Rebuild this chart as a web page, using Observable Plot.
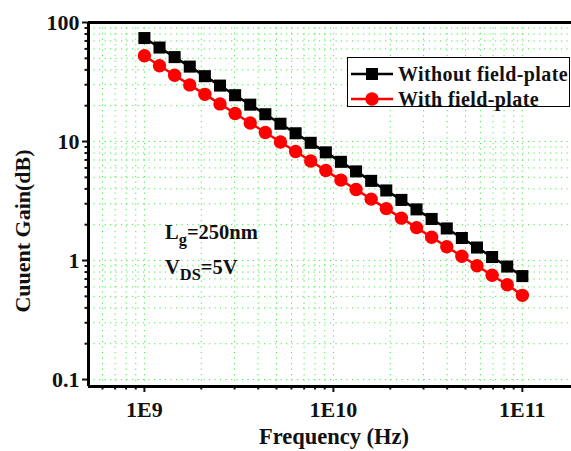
<!DOCTYPE html>
<html>
<head>
<meta charset="utf-8">
<script src="https://cdn.jsdelivr.net/npm/d3@7"></script>
<script src="https://cdn.jsdelivr.net/npm/@observablehq/plot@0.6"></script>
<style>
  html, body { margin: 0; padding: 0; background: #fff; }
  #wrap { position: relative; width: 571px; height: 451px; overflow: hidden; font-family: "Liberation Serif", "Times New Roman", serif; font-weight: bold; color: #111; }
  .ov { position: absolute; white-space: nowrap; line-height: 1; }
  sub { font-size: 0.8em; vertical-align: -0.35em; line-height: 0; }
</style>
</head>
<body>
<div id="wrap"></div>
<script>
// Frequency in GHz
const freqGHz = [1.000, 1.202, 1.445, 1.738, 2.089, 2.512, 3.020, 3.631, 4.365, 5.248,
                 6.310, 7.586, 9.120, 10.96, 13.18, 15.85, 19.05, 22.91, 27.54, 33.11,
                 39.81, 47.86, 57.54, 69.18, 83.18, 100.0];
const withoutFieldPlate = [74, 61.6, 51.2, 42.6, 35.4, 29.5, 24.5, 20.4, 16.95, 14.1,
                           11.73, 9.75, 8.11, 6.75, 5.61, 4.67, 3.88, 3.23, 2.69, 2.235,
                           1.86, 1.546, 1.286, 1.07, 0.89, 0.74];
const withFieldPlate = [52.5, 43.3, 36.0, 29.9, 24.9, 20.7, 17.2, 14.3, 11.9, 9.91,
                        8.24, 6.85, 5.70, 4.74, 3.95, 3.28, 2.73, 2.27, 1.89, 1.57,
                        1.306, 1.086, 0.904, 0.752, 0.625, 0.51];
const seriesNames = ["Without field-plate", "With field-plate"];
const xMajor = [1e9, 1e10, 1e11];
const xTickLabels = ["1E9", "1E10", "1E11"];
const yMajor = [0.1, 1, 10, 100];
const yTickLabels = ["0.1", "1", "10", "100"];
const xDomain = [5.06e8, 1.82e11];
const yDomain = [0.0874, 100];

const xMinor = [];
for (const d of [1e8, 1e9, 1e10]) for (let k = 2; k <= 9; k++) { const v = d * k; if (v > xDomain[0] && v < 1e11) xMinor.push(v); }
const yMinor = [];
for (const d of [0.1, 1, 10]) for (let k = 2; k <= 9; k++) yMinor.push(d * k);

const rowsB = freqGHz.map((f, i) => ({f: f * 1e9, g: withoutFieldPlate[i], s: seriesNames[0]}));
const rowsR = freqGHz.map((f, i) => ({f: f * 1e9, g: withFieldPlate[i], s: seriesNames[1]}));

const grid = {stroke: "#33f033", strokeOpacity: 0.95, strokeWidth: 1, strokeDasharray: "1.2,4.3"};

const chart = Plot.plot({
  width: 571,
  height: 451,
  marginLeft: 88,
  marginRight: 0,
  marginTop: 22,
  marginBottom: 65,
  style: {fontFamily: "'Liberation Serif', 'Times New Roman', serif", fontWeight: "bold", color: "#111", background: "transparent"},
  x: {type: "log", domain: xDomain},
  y: {type: "log", domain: yDomain},
  marks: [
    Plot.gridX([...xMajor, ...xMinor], grid),
    Plot.gridY([...yMajor, ...yMinor], grid),
    Plot.axisX(xMinor, {tickSize: 3.5, strokeWidth: 2, text: null, label: null}),
    Plot.axisX({ticks: xMajor, tickSize: 6, strokeWidth: 2, tickPadding: 9, fontSize: 22,
                tickFormat: (d) => xTickLabels[xMajor.indexOf(d)], label: null}),
    Plot.axisY(yMinor, {tickSize: 3.5, strokeWidth: 2, text: null, label: null}),
    Plot.axisY({ticks: yMajor, tickSize: 6, strokeWidth: 2, tickPadding: 3, fontSize: 22,
                tickFormat: (d) => yTickLabels[yMajor.indexOf(d)], label: null}),
    Plot.ruleY([yDomain[0]], {stroke: "#000", strokeWidth: 3}),
    Plot.ruleY([yDomain[1]], {stroke: "#000", strokeWidth: 3}),
    Plot.ruleX([xDomain[0]], {stroke: "#000", strokeWidth: 3}),
    Plot.line(rowsB, {x: "f", y: "g", stroke: "#000", strokeWidth: 2.5}),
    Plot.dot(rowsB, {x: "f", y: "g", symbol: "square", r: 6.8, fill: "#000", stroke: null}),
    Plot.line(rowsR, {x: "f", y: "g", stroke: "#ff0000", strokeWidth: 2.5}),
    Plot.dot(rowsR, {x: "f", y: "g", symbol: "circle", r: 6.7, fill: "#ff0000", stroke: null})
  ]
});

const wrap = document.getElementById("wrap");
wrap.appendChild(chart);

function ov(html, css) {
  const d = document.createElement("div");
  d.className = "ov";
  d.innerHTML = html;
  Object.assign(d.style, css);
  wrap.appendChild(d);
  return d;
}

// Axis titles
ov("Frequency (Hz)", {left: "334px", top: "426px", fontSize: "22.5px", transform: "translateX(-50%)"});
ov("Cuuent Gain(dB)", {left: "23px", top: "231px", fontSize: "22px", transform: "translate(-50%,-50%) rotate(-90deg)"});

// Annotations
ov("L<sub>g</sub>=250nm", {left: "165px", top: "222px", fontSize: "20.5px"});
ov("V<sub>DS</sub>=5V", {left: "165px", top: "257px", fontSize: "20.5px"});

// Legend
const legend = document.createElement("div");
Object.assign(legend.style, {position: "absolute", left: "347px", top: "57px", width: "223px", height: "50px",
  border: "1.5px solid #000", background: "#fff", boxSizing: "border-box"});
wrap.appendChild(legend);
const sym = [
  `<svg width="44" height="16"><line x1="1" x2="43" y1="8" y2="8" stroke="#000" stroke-width="2.5"/><rect x="16" y="2" width="12" height="12" fill="#000"/></svg>`,
  `<svg width="44" height="16"><line x1="1" x2="43" y1="8" y2="8" stroke="#f00" stroke-width="2.5"/><circle cx="22" cy="8" r="6.7" fill="#f00"/></svg>`
];
seriesNames.forEach((name, i) => {
  const row = document.createElement("div");
  Object.assign(row.style, {position: "absolute", left: "2px", top: (i === 0 ? 6 : 31) + "px", display: "flex", alignItems: "center",
    whiteSpace: "nowrap", fontSize: "20px", letterSpacing: "0.4px", lineHeight: "1"});
  row.innerHTML = sym[i] + `<span style="margin-left:4px">${name}</span>`;
  legend.appendChild(row);
});
</script>
</body>
</html>
